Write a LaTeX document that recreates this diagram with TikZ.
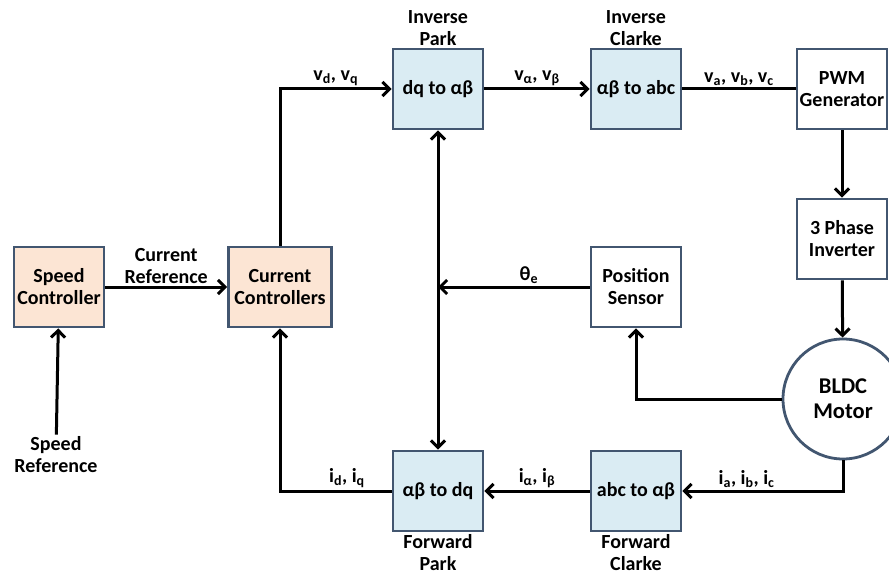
\documentclass[tikz,border=0pt]{standalone}
\usepackage{fontspec}
\setmainfont{Carlito}
\usetikzlibrary{arrows.meta,positioning}
\definecolor{boxline}{RGB}{66,86,112}
\definecolor{peach}{RGB}{252,229,212}
\definecolor{paleblue}{RGB}{218,236,243}
\begin{document}
\begin{tikzpicture}[x=1pt,y=-1pt,
  font=\fontsize{20}{22}\selectfont\bfseries,
  blk/.style={draw=boxline, line width=2.8pt, minimum width=90pt,
    minimum height=80pt, align=center, inner sep=2pt},
  ctrl/.style={blk, fill=peach},
  xform/.style={blk, fill=paleblue},
  hw/.style={blk, fill=white},
  tip/.tip={Straight Barb[length=7pt,width=14pt]},
  sig/.style={line width=3pt, -tip},
  lbl/.style={inner sep=2pt, align=center}]
  \useasboundingbox (0,0) rectangle (889,575);

  % controllers
  \node[ctrl] (spd) at (59,287) {Speed\\Controller};
  \node[ctrl, minimum width=103pt] (cur) at (280,287) {Current\\Controllers};
  \node[lbl] (sref) at (56,455) {Speed\\Reference};

  % transforms
  \node[xform] (ipark) at (438,89) {dq to αβ};
  \node[xform] (iclarke) at (636,89) {αβ to abc};
  \node[xform] (fpark) at (438,491) {αβ to dq};
  \node[xform] (fclarke) at (636,491) {abc to αβ};
  \node[lbl, above=0pt of ipark] (iparkname) {Inverse\\Park};
  \node[lbl, above=0pt of iclarke] (iclarkename) {Inverse\\Clarke};
  \node[lbl, below=0pt of fpark] (fparkname) {Forward\\Park};
  \node[lbl, below=0pt of fclarke] (fclarkename) {Forward\\Clarke};

  % hardware
  \node[hw] (pwm) at (842,89) {PWM\\Generator};
  \node[hw] (inv) at (842,239) {3 Phase\\Inverter};
  \node[hw] (pos) at (636,287) {Position\\Sensor};
  \node[hw, circle, minimum size=120pt, font=\fontsize{22.5}{25}\selectfont\bfseries]
    (motor) at (843,399) {BLDC\\Motor};

  % signals
  \draw[sig] (sref) -- (spd);
  \draw[sig] (spd) -- node[lbl, above] {Current\\Reference} (cur);
  \draw[sig] (cur) |- node[lbl, pos=0.75, above] {v\textsubscript{d}, v\textsubscript{q}} (ipark);
  \draw[sig] (ipark) -- node[lbl, above] {v\textsubscript{α}, v\textsubscript{β}} (iclarke);
  \draw[line width=3pt] (iclarke) -- node[lbl, above] {v\textsubscript{a}, v\textsubscript{b}, v\textsubscript{c}} (pwm);
  \draw[sig] (pwm) -- (inv);
  \draw[sig] (inv) -- (motor);
  \draw[sig] (motor) -| (pos);
  \draw[sig] (motor) |- node[lbl, pos=0.8, above] {i\textsubscript{a}, i\textsubscript{b}, i\textsubscript{c}} (fclarke);
  \draw[sig] (fclarke) -- node[lbl, above] {i\textsubscript{α}, i\textsubscript{β}} (fpark);
  \draw[sig] (fpark) -| node[lbl, pos=0.2, above] {i\textsubscript{d}, i\textsubscript{q}} (cur);
  \draw[sig] (pos) -- node[lbl, pos=0.4, above] {θ\textsubscript{e}} (pos -| ipark);
  \draw[line width=3pt, tip-tip] (ipark) -- (fpark);
\end{tikzpicture}
\end{document}
